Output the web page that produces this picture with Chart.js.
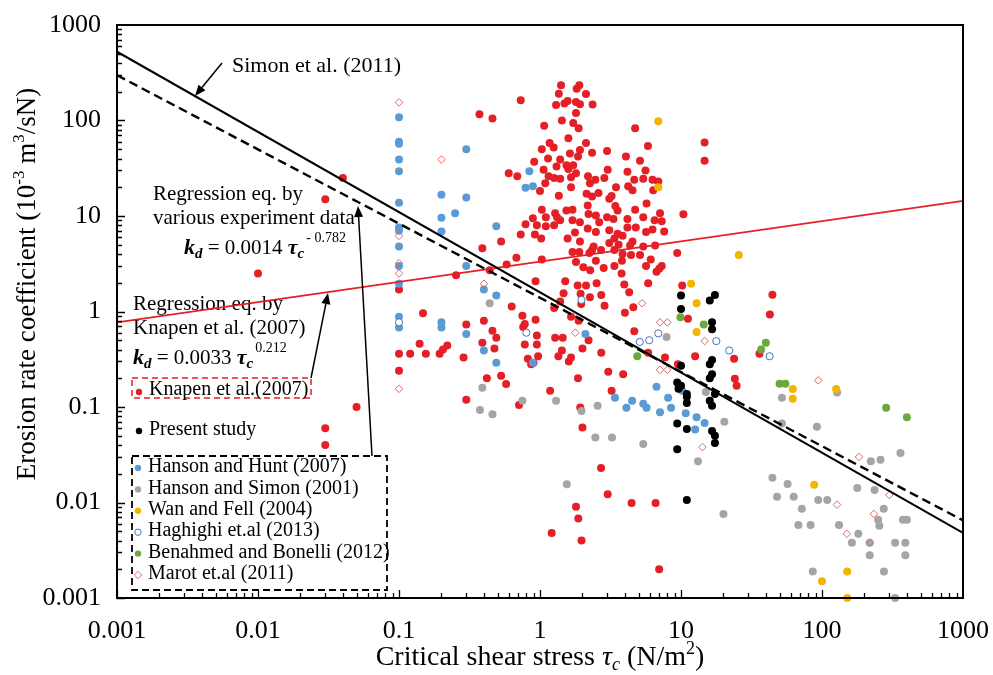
<!DOCTYPE html>
<html><head><meta charset="utf-8">
<script src="https://cdn.jsdelivr.net/npm/chart.js@4.4.1/dist/chart.umd.min.js"></script>
<style>html,body{margin:0;padding:0;background:#fff;overflow:hidden}</style>
</head><body>
<canvas id="c" width="993" height="675"></canvas>
<script>
// ---------------- DATA ----------------
const xTickValues = [0.001, 0.01, 0.1, 1, 10, 100, 1000];
const xTickLabels = ['0.001', '0.01', '0.1', '1', '10', '100', '1000'];
const yTickValues = [0.001, 0.01, 0.1, 1, 10, 100, 1000];
const yTickLabels = ['0.001', '0.01', '0.1', '1', '10', '100', '1000'];

const knapen = [
[0.04,25],[0.03,15],[0.01,2.5],[0.05,0.1],[0.03,0.06],[0.03,0.04],
[0.1,1.7],[0.1,0.36],[0.1,0.24],[0.12,0.36],[0.14,0.46],[0.155,0.36],[0.194,0.36],[0.205,0.4],[0.22,0.44],[0.148,0.96],[0.254,2.4],[0.287,0.33],[0.3,0.73],[0.3,0.119],
[0.372,116],[0.46,105],[0.39,4.6],[0.44,2.7],[0.39,0.47],[0.4,0.8],[0.42,0.2],[0.46,0.63],[0.49,0.53],[0.475,0.41],[0.53,0.212],[0.575,0.174],[0.53,5.4],[0.58,3.1],[0.6,28],[0.63,1.13],[0.68,3.65],[0.69,26],[0.71,0.105],[0.73,163],[0.73,6.4],[0.75,0.905],[0.76,0.69],[0.78,0.74],[0.78,0.45],[0.79,8.2],[0.82,0.32],[0.865,0.28],[0.9,0.29],[0.89,9.5],[0.91,37],[0.92,6.4],[0.93,2.07],[0.93,0.82],[0.95,0.56],[0.95,0.45],[0.97,0.34],[0.95,8.0],
[1.0,18.3],[1.02,5.8],[1.03,11.6],[1.03,50],[1.03,3.5],[1.06,30.5],[1.07,88],[1.09,22],[1.1,9.7],[1.1,7.8],[1.14,40],[1.15,26],[1.17,58],[1.18,0.148],[1.21,0.0048],[1.25,52],[1.26,25],[1.26,8.0],[1.26,1.09],[1.28,0.53],[1.28,10.7],[1.3,145],[1.31,33],[1.32,9.7],[1.35,0.34],[1.36,191],[1.36,16.3],[1.39,39],[1.39,24.5],[1.39,9.0],[1.39,1.27],[1.41,234],[1.43,100],[1.43,0.39],[1.45,0.53],[1.47,1.55],[1.49,151],[1.51,2.07],[1.54,34],[1.54,11.4],[1.57,160],[1.57,5.8],[1.59,65],[1.59,31],[1.6,0.3],[1.63,45],[1.66,25.5],[1.66,20],[1.66,0.88],[1.66,0.33],[1.7,11.6],[1.7,9.0],[1.7,4.2],[1.72,94],[1.72,34],[1.77,6.7],[1.8,156],[1.8,120],[1.8,28],[1.8,3.3],[1.8,0.009],[1.82,215],[1.85,1.87],[1.86,42],[1.86,0.2],[1.87,0.0068],[1.88,83],[1.88,0.8],[1.9,234],[1.9,4.2],[1.92,148],[1.92,49],[1.92,8.6],[1.92,5.4],[1.93,0.099],[1.94,1.53],[1.96,1.2],[1.97,0.004],
[2.0,0.41],[2.0,0.061],[2.03,2.9],[2.12,189],[2.12,58],[2.12,1.87],[2.14,17.1],[2.18,12.9],[2.18,7.4],[2.19,26],[2.21,10.5],[2.21,0.5],[2.24,4.1],[2.26,22],[2.26,1.41],[2.27,2.7],[2.34,46],[2.34,16],[2.34,4.4],[2.36,147],[2.4,4.8],[2.47,24],[2.49,10.1],[2.49,6.8],[2.49,3.4],[2.52,1.98],[2.6,17.4],[2.63,8.6],[2.71,4.4],[2.71,0.023],[2.72,1.49],[2.72,0.37],[2.83,2.85],[2.86,25],[2.87,1.15],[2.99,48],[2.99,9.7],
[3.02,30.5],[3.02,0.0122],[3.05,0.234],[3.1,15.2],[3.1,7.1],[3.1,5.2],[3.22,16.2],[3.22,0.148],[3.32,9.3],[3.37,5.8],[3.37,4.4],[3.37,3.0],[3.42,12.7],[3.46,20],[3.55,11.4],[3.55,6.5],[3.61,5.0],[3.79,2.5],[3.81,3.4],[3.85,6.2],[3.85,4.0],[3.89,0.22],[3.96,1.92],
[4.0,0.97],[4.07,42],[4.17,29],[4.17,9.3],[4.17,7.6],[4.22,20.5],[4.29,1.59],[4.35,4.9],[4.42,3.9],[4.46,0.0099],[4.53,18.6],[4.53,5.4],[4.59,1.11],[4.66,24],[4.66,0.62],[4.73,83],[4.73,11.6],[4.78,7.6],
[5.12,38],[5.12,3.9],[5.4,24.5],[5.4,9.7],[5.4,4.8],[5.6,30],[5.65,6.8],[5.65,3.0],[5.7,13.5],[5.83,54],[5.85,1.98],[5.85,0.37],[6.1,3.5],[6.28,24],[6.28,7.2],[6.35,18.6],[6.5,9.0],[6.55,4.9],[6.6,0.0099],[6.7,2.6],[6.9,23],[7.0,2.8],[7.0,0.002],[7.1,10.7],[7.3,8.8],[7.3,3.0],[7.6,6.9],[7.7,0.33],
[9.4,4.1],[9.5,0.28],[10.2,1.87],[10.4,10.4],[11.2,0.84],[12.6,0.34],[14.7,59],[14.7,38],[23.8,0.32],[24.1,0.198],[24.8,0.167],[36,0.36],[42.7,0.93],[44.5,1.5]
];

const presentStudy = [
[10,1.47],[10,1.06],[10,0.27],[9.4,0.18],[10,0.167],[9.6,0.155],[11,0.137],[11,0.128],[11,0.11],[9.4,0.067],[11,0.059],[9.4,0.036],[11,0.0106],
[17.4,1.49],[16,1.3],[16.6,0.77],[16.6,0.65],[16.6,0.31],[16,0.28],[16.6,0.22],[16,0.2],[17.4,0.137],[16,0.116],[16.6,0.103],[16.6,0.056],[17.4,0.05],[17.4,0.042]
];

const hansonHunt = [
[0.1,108],[0.1,60],[0.1,57],[0.1,39],[0.1,29.5],[0.1,13.8],[0.1,7.6],[0.1,7.0],[0.1,4.8],[0.1,3.0],[0.1,1.95],[0.1,0.88],[0.1,0.68],
[0.2,16.7],[0.2,9.6],[0.2,6.9],[0.2,0.77],[0.2,0.68],[0.25,10.7],[0.3,50],[0.3,15.6],[0.3,3.0],[0.3,0.58],[0.49,7.8],[0.84,29.5],[0.79,19.8],[0.89,20.5],
[0.4,1.7],[0.49,1.47],[0.4,0.39],[0.49,0.29],[0.89,0.29],[2.1,0.58],[3.4,0.125],[4.1,0.098],[4.5,0.116],[5.4,0.108],[5.7,0.098],[6.7,0.163],[7.1,0.088],[8.1,0.125],[8.5,0.098],[10.8,0.086],[10.2,0.148],[12.9,0.078],[14.7,0.068],[12.6,0.058]
];

const hansonSimon = [
[0.44,1.22],[0.39,0.159],[0.375,0.093],[0.46,0.084],[0.75,0.116],[1.3,0.116],[1.97,0.091],[2.56,0.103],[2.47,0.048],[3.24,0.048],[5.4,0.041],[1.55,0.0155],[7.9,0.54],[15,0.144],[20.3,0.07],[13.2,0.027],[20,0.0076],
[52,0.125],[52,0.067],[92,0.062],[128,0.142],[44.5,0.0182],[57,0.0156],[48,0.0115],[63,0.0115],[72,0.0086],[68,0.0058],[83,0.0058],[94,0.0106],[109,0.0106],[132,0.0058],[163,0.0038],[181,0.0047],[178,0.0142],
[222,0.027],[260,0.028],[236,0.0135],[360,0.033],[274,0.0086],[250,0.0066],[255,0.0057],[218,0.0028],[218,0.0038],[330,0.0038],[390,0.0038],[375,0.0066],[400,0.0066],[390,0.0028],[86,0.0019],[275,0.0019],[330,0.001]
];

const wanFell = [
[6.9,98],[6.9,20],[11.8,1.95],[12.9,1.22],[12.9,0.61],[25.7,3.9],[62,0.154],[62,0.122],[126,0.154],[88,0.0153],[151,0.0019],[100,0.0015],[151,0.001]
];

const haghighi = [
[1.97,1.32],[0.8,0.6],[5.1,0.48],[5.95,0.5],[6.9,0.59],[17.8,0.49],[22,0.39],[42.5,0.34],[0.1,0.77]
];

const benahmed = [
[9.9,0.87],[14.5,0.73],[4.9,0.34],[40,0.47],[37,0.4],[50,0.175],[55,0.175],[285,0.098],[400,0.078]
];

const marot = [
[0.1,155],[0.2,39],[0.1,6.2],[0.1,3.2],[0.1,2.5],[0.1,0.155],[0.4,1.95],[1.78,0.6],[5.3,1.22],[7.1,0.77],[8.0,0.77],[7.1,0.245],[8.0,0.245],[14.7,0.49],[94,0.19],[14.2,0.038],[183,0.03],[128,0.0095],[233,0.0076],[150,0.0047],[300,0.012],[218,0.0038]
];

// fitted lines (end points)
const lineX = [0.001, 1000];
const simonY = [525, 0.0048];
const regressionY = [298, 0.0065];
const knapenFitY = [0.77, 14.4];

// ---------------- STYLE ----------------
const FONT = "'Liberation Serif','Times New Roman',Times,serif";
const RED = '#e41f26', BLUE = '#5b9bd5', GRAY = '#a5a5a5', GOLD = '#f4b400', GREEN = '#6aaa3a', BLACK = '#000000';
const OPENBLUE = '#4472c4', DIAM = '#e06a66';

const pts = arr => arr.map(p => ({x: p[0], y: p[1]}));
const linePts = ys => lineX.map((x, i) => ({x: x, y: ys[i]}));
const fnt = (size, style) => (style ? style + ' ' : '') + size + 'px ' + FONT;

function drawRuns(ctx, x, y, runs, align) {
  let total = 0;
  runs.forEach(r => { ctx.font = r.font; r.w = ctx.measureText(r.t).width; total += r.w + (r.gap || 0); });
  let cx = align === 'center' ? x - total / 2 : x;
  runs.forEach(r => { ctx.font = r.font; ctx.fillText(r.t, cx, y + (r.dy || 0)); cx += r.w + (r.gap || 0); });
}
function arrow(ctx, x1, y1, x2, y2) {
  const a = Math.atan2(y2 - y1, x2 - x1), L = 11, W = 4.5;
  const bx = x2 - L * Math.cos(a), by = y2 - L * Math.sin(a);
  ctx.save();
  ctx.strokeStyle = '#000'; ctx.lineWidth = 1.5;
  ctx.beginPath(); ctx.moveTo(x1, y1); ctx.lineTo(bx, by); ctx.stroke();
  ctx.fillStyle = '#000';
  ctx.beginPath(); ctx.moveTo(x2, y2);
  ctx.lineTo(bx + W * Math.sin(a), by - W * Math.cos(a));
  ctx.lineTo(bx - W * Math.sin(a), by + W * Math.cos(a));
  ctx.closePath(); ctx.fill();
  ctx.restore();
}

const decor = {
  id: 'decor',
  beforeDatasetsDraw(chart) {
    const ctx = chart.ctx, a = chart.chartArea;
    const L = a.left, T = a.top;
    ctx.save();
    ctx.fillStyle = '#000'; ctx.textBaseline = 'alphabetic'; ctx.textAlign = 'left';
    ctx.font = fnt(22); ctx.fillText('Simon et al. (2011)', L + 115, T + 47);
    ctx.font = fnt(21);
    ctx.fillText('Regression eq. by', L + 36, T + 175);
    ctx.fillText('various experiment data', L + 36, T + 199);
    drawRuns(ctx, L + 67, T + 229, [
      {t: 'k', font: fnt(22, 'italic bold')},
      {t: 'd', font: fnt(15, 'italic bold'), dy: 4},
      {t: ' = 0.0014 ', font: fnt(21)},
      {t: 'τ', font: fnt(22, 'italic bold')},
      {t: 'c', font: fnt(15, 'italic bold'), dy: 4, gap: 2},
      {t: '- 0.782', font: fnt(14), dy: -12}
    ]);
    ctx.font = fnt(21);
    ctx.fillText('Regression eq. by', L + 16, T + 285);
    ctx.fillText('Knapen et al. (2007)', L + 16, T + 309);
    drawRuns(ctx, L + 16, T + 339, [
      {t: 'k', font: fnt(22, 'italic bold')},
      {t: 'd', font: fnt(15, 'italic bold'), dy: 4},
      {t: ' = 0.0033 ', font: fnt(21)},
      {t: 'τ', font: fnt(22, 'italic bold')},
      {t: 'c', font: fnt(15, 'italic bold'), dy: 4, gap: 2},
      {t: '0.212', font: fnt(14), dy: -12}
    ]);
    ctx.restore();
  },
  afterDatasetsDraw(chart) {
    const ctx = chart.ctx, a = chart.chartArea;
    const L = a.left, T = a.top;
    const xs = chart.scales.x, ys = chart.scales.y;
    ctx.save();
    arrow(ctx, L + 105, T + 38, L + 78, T + 71);
    arrow(ctx, L + 194, T + 353, L + 211, T + 268);
    arrow(ctx, L + 255, T + 431, L + 241, T + 181);

    const ds = chart.data.datasets;
    const byLabel = lbl => ds.find(d => d.label === lbl);
    function marker(d, x, y) {
      ctx.save();
      const r = 3.2;
      if (d.pointStyle === 'rectRot') {
        ctx.strokeStyle = d.borderColor; ctx.lineWidth = 1;
        ctx.beginPath(); ctx.moveTo(x, y - r - 0.5); ctx.lineTo(x + r + 0.5, y); ctx.lineTo(x, y + r + 0.5); ctx.lineTo(x - r - 0.5, y); ctx.closePath(); ctx.stroke();
      } else {
        ctx.beginPath(); ctx.arc(x, y, r, 0, Math.PI * 2);
        ctx.fillStyle = d.backgroundColor; ctx.fill();
        if (d.borderWidth) { ctx.strokeStyle = d.borderColor; ctx.lineWidth = 1; ctx.stroke(); }
      }
      ctx.restore();
    }
    ctx.textBaseline = 'middle'; ctx.textAlign = 'left'; ctx.fillStyle = '#000';
    ctx.font = fnt(20);
    ctx.save();
    ctx.strokeStyle = RED; ctx.lineWidth = 1.5; ctx.setLineDash([6, 4]);
    ctx.strokeRect(L + 15, T + 353, 179, 20);
    ctx.restore();
    marker(byLabel('Knapen et al.(2007)'), L + 22, T + 367);
    ctx.fillText('Knapen et al.(2007)', L + 32, T + 365);
    marker(byLabel('Present study'), L + 22, T + 406);
    ctx.fillText('Present study', L + 32, T + 405);
    ctx.save();
    ctx.strokeStyle = '#000'; ctx.lineWidth = 1.8; ctx.setLineDash([7, 4]);
    ctx.strokeRect(L + 15, T + 431, 255, 134);
    ctx.restore();
    const others = ['Hanson and Hunt (2007)', 'Hanson and Simon (2001)', 'Wan and Fell (2004)', 'Haghighi et.al (2013)', 'Benahmed and Bonelli (2012)', 'Marot et.al (2011)'];
    others.forEach((lbl, i) => {
      const y = T + 443 + i * 21.4;
      marker(byLabel(lbl), L + 21, y);
      ctx.fillText(lbl, L + 31, y - 1);
    });

    // frame and inner ticks
    ctx.strokeStyle = '#000'; ctx.lineWidth = 2; ctx.setLineDash([]);
    ctx.strokeRect(a.left, a.top, a.right - a.left, a.bottom - a.top);
    ctx.lineWidth = 1.3;
    ctx.beginPath();
    for (let k = -3; k <= 2; k++) {
      for (let m = 1; m <= 9; m++) {
        const v = m * Math.pow(10, k);
        const len = m === 1 ? 8 : 5;
        const px = Math.round(xs.getPixelForValue(v)) + 0.5;
        ctx.moveTo(px, a.bottom); ctx.lineTo(px, a.bottom - len);
        const py = Math.round(ys.getPixelForValue(v)) + 0.5;
        ctx.moveTo(a.left, py); ctx.lineTo(a.left + len, py);
      }
    }
    ctx.stroke();

    // axis titles
    ctx.fillStyle = '#000'; ctx.textBaseline = 'alphabetic';
    drawRuns(ctx, (a.left + a.right) / 2, 665, [
      {t: 'Critical shear stress ', font: fnt(28)},
      {t: 'τ', font: fnt(28, 'italic')},
      {t: 'c', font: fnt(18, 'italic'), dy: 5},
      {t: ' (N/m', font: fnt(28)},
      {t: '2', font: fnt(18), dy: -11},
      {t: ')', font: fnt(28)}
    ], 'center');
    ctx.save();
    ctx.translate(35, 284);
    ctx.rotate(-Math.PI / 2);
    drawRuns(ctx, 0, 0, [
      {t: 'Erosion rate coefficient (10', font: fnt(27)},
      {t: '-3', font: fnt(17), dy: -11},
      {t: ' m', font: fnt(27)},
      {t: '3', font: fnt(17), dy: -11},
      {t: '/sN)', font: fnt(27)}
    ], 'center');
    ctx.restore();
    ctx.restore();
  }
};

const pointBase = {showLine: false, pointRadius: 4, pointHoverRadius: 4, borderWidth: 0, clip: false};

new Chart(document.getElementById('c'), {
  type: 'scatter',
  data: {
    datasets: [
      {label: 'Simon et al. (2011)', data: linePts(simonY), showLine: true, borderColor: BLACK, borderWidth: 2, pointRadius: 0, order: 0},
      {label: 'Regression eq. by various experiment data', data: linePts(regressionY), showLine: true, borderColor: BLACK, borderWidth: 2.4, borderDash: [9, 5], pointRadius: 0, order: 0},
      {label: 'Regression eq. by Knapen et al. (2007)', data: linePts(knapenFitY), showLine: true, borderColor: RED, borderWidth: 1.8, pointRadius: 0, order: 0},
      Object.assign({label: 'Present study', data: pts(presentStudy), backgroundColor: BLACK, order: 1}, pointBase),
      Object.assign({label: 'Marot et.al (2011)', data: pts(marot), pointStyle: 'rectRot', backgroundColor: 'rgba(255,255,255,0)', borderColor: DIAM, order: 2}, pointBase, {borderWidth: 1, pointRadius: 3.8}),
      Object.assign({label: 'Haghighi et.al (2013)', data: pts(haghighi), backgroundColor: '#ffffff', borderColor: OPENBLUE, order: 3}, pointBase, {borderWidth: 1, pointRadius: 3.6}),
      Object.assign({label: 'Benahmed and Bonelli (2012)', data: pts(benahmed), backgroundColor: GREEN, order: 4}, pointBase),
      Object.assign({label: 'Wan and Fell (2004)', data: pts(wanFell), backgroundColor: GOLD, order: 5}, pointBase),
      Object.assign({label: 'Hanson and Simon (2001)', data: pts(hansonSimon), backgroundColor: GRAY, order: 6}, pointBase),
      Object.assign({label: 'Hanson and Hunt (2007)', data: pts(hansonHunt), backgroundColor: BLUE, order: 7}, pointBase),
      Object.assign({label: 'Knapen et al.(2007)', data: pts(knapen), backgroundColor: RED, order: 8}, pointBase)
    ]
  },
  options: {
    responsive: false,
    animation: false,
    events: [],
    layout: {padding: {top: 25, right: 30, left: 0, bottom: 0}},
    plugins: {legend: {display: false}, tooltip: {enabled: false}, title: {display: false}},
    scales: {
      x: {
        type: 'logarithmic', min: 0.001, max: 1000, position: 'bottom',
        afterBuildTicks: s => { s.ticks = xTickValues.map(v => ({value: v})); },
        afterFit: s => { s.height = 77; s.paddingLeft = 0; s.paddingRight = 0; },
        ticks: {callback: (v, i) => xTickLabels[i], font: {family: FONT, size: 26}, color: '#000', padding: 18, maxRotation: 0, autoSkip: false},
        grid: {display: false, drawTicks: false},
        border: {display: false}
      },
      y: {
        type: 'logarithmic', min: 0.001, max: 1000, position: 'left',
        afterBuildTicks: s => { s.ticks = yTickValues.map(v => ({value: v})); },
        afterFit: s => { s.width = 117; s.paddingTop = 0; s.paddingBottom = 0; },
        ticks: {callback: (v, i) => yTickLabels[i], font: {family: FONT, size: 26}, color: '#000', padding: 16, autoSkip: false},
        grid: {display: false, drawTicks: false},
        border: {display: false}
      }
    }
  },
  plugins: [decor]
});
</script>
</body></html>
